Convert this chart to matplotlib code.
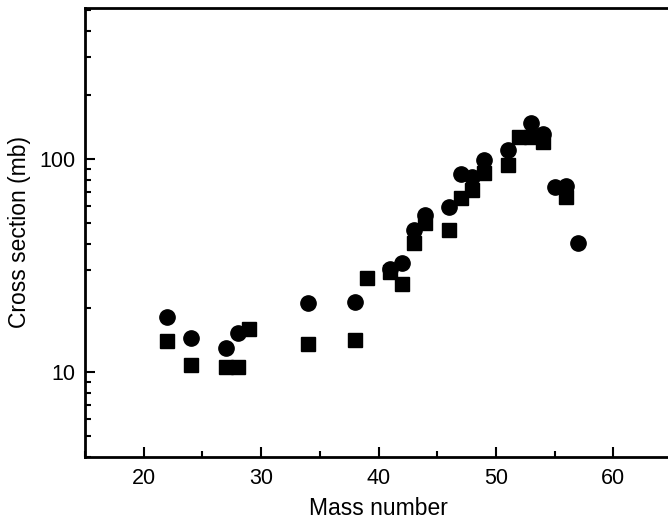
import matplotlib
matplotlib.use('Agg')
import matplotlib.pyplot as plt
from matplotlib.ticker import MultipleLocator, LogLocator, NullFormatter, FixedLocator

plt.rcParams['font.family'] = ['Liberation Sans', 'DejaVu Sans']

# 数据：圆点系列
mass_circle = [22, 24, 27, 28, 34, 38, 41, 42, 43, 44, 46, 47, 48, 49, 51, 53, 54, 55, 56, 57]
xs_circle = [18.2, 14.4, 13.0, 15.2, 21.1, 21.3, 30.5, 32.6, 46.3, 54.6, 59.6, 84.5, 82.0,
             98.9, 110.0, 147.5, 131.0, 74.0, 74.6, 40.4]
# 数据：方块系列
mass_square = [22, 24, 27, 28, 29, 34, 38, 39, 41, 42, 43, 44, 46, 47, 48, 49, 51, 52, 53, 54, 56]
xs_square = [14.0, 10.8, 10.6, 10.6, 15.9, 13.5, 14.1, 27.6, 29.5, 25.9, 40.4, 50.1, 46.5,
             65.6, 71.5, 86.0, 93.7, 126.8, 127.0, 120.0, 66.4]

fig = plt.figure(figsize=(6.68, 5.25), dpi=100)
ax = fig.add_axes([85/668, 68/525, 587/668, 449/525])

ax.plot(mass_square, xs_square, 's', color='black', markersize=10, clip_on=False)
ax.plot(mass_circle, xs_circle, 'o', color='black', markersize=11, clip_on=False)

ax.set_yscale('log')
ax.set_xlim(15, 65)
ax.set_ylim(4, 510)

ax.xaxis.set_major_locator(MultipleLocator(10))
ax.xaxis.set_minor_locator(MultipleLocator(5))
ax.yaxis.set_major_locator(FixedLocator([10, 100]))
ax.yaxis.set_major_formatter(plt.FixedFormatter(['10', '100']))
ax.yaxis.set_minor_locator(LogLocator(base=10, subs=range(2, 10)))
ax.yaxis.set_minor_formatter(NullFormatter())

ax.tick_params(which='both', direction='in', width=1.5, labelsize=15.5, top=False, right=False)
ax.tick_params(which='major', length=7)
ax.tick_params(which='minor', length=4)
ax.tick_params(axis='x', which='major', pad=8)
ax.tick_params(axis='y', which='major', pad=7)

for s in ax.spines.values():
    s.set_linewidth(2)

ax.set_xlabel('Mass number', fontsize=16.5, labelpad=6)
ax.set_ylabel('Cross section (mb)', fontsize=16.5, labelpad=6)

plt.savefig('out.png', dpi=100)
plt.close('all')
